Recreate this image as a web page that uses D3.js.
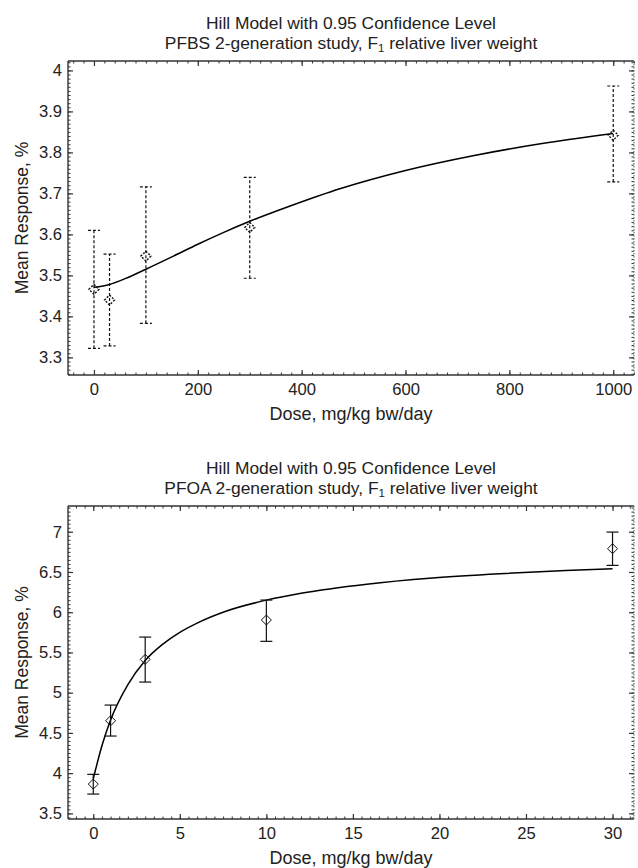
<!DOCTYPE html>
<html>
<head>
<meta charset="utf-8">
<script src="https://cdnjs.cloudflare.com/ajax/libs/d3/7.8.5/d3.min.js"></script>
<style>
  body { margin: 0; background: #fff; }
  svg text { font-family: "Liberation Sans", Arial, sans-serif; fill: #222; }
</style>
</head>
<body>
<div class="charts"></div>
<script>
// PFBS panel (top)
const pfbs_dose  = [0, 30, 100, 300, 1000];
const pfbs_mean  = [3.466, 3.440, 3.547, 3.617, 3.842];
const pfbs_lower = [3.322, 3.328, 3.383, 3.493, 3.728];
const pfbs_upper = [3.610, 3.552, 3.716, 3.739, 3.962];
const pfbs_fit_dose = [0, 30, 60, 100, 150, 200, 250, 300, 375, 475, 600, 730, 860, 1000];
const pfbs_fit_resp = [3.471, 3.478, 3.492, 3.515, 3.545, 3.576, 3.605, 3.632, 3.668, 3.712, 3.756, 3.792, 3.821, 3.846];
const pfbs_xticks = [0, 200, 400, 600, 800, 1000];
const pfbs_yticks = [3.3, 3.4, 3.5, 3.6, 3.7, 3.8, 3.9, 4];

// PFOA panel (bottom)
const pfoa_dose  = [0, 1, 3, 10, 30];
const pfoa_mean  = [3.864, 4.651, 5.414, 5.903, 6.789];
const pfoa_lower = [3.740, 4.461, 5.132, 5.638, 6.582];
const pfoa_upper = [3.985, 4.846, 5.691, 6.151, 6.996];
const pfoa_fit_dose = [0, 0.5, 1, 2, 3, 4, 5, 6, 7.7, 10, 12, 15.8, 19.6, 23.5, 27.3, 30];
const pfoa_fit_resp = [3.93, 4.34, 4.66, 5.10, 5.40, 5.60, 5.75, 5.865, 6.015, 6.15, 6.235, 6.348, 6.424, 6.478, 6.518, 6.54];
const pfoa_xticks = [0, 5, 10, 15, 20, 25, 30];
const pfoa_yticks = [3.5, 4, 4.5, 5, 5.5, 6, 6.5, 7];

const title_line1 = "Hill Model with 0.95 Confidence Level";
const x_label = "Dose, mg/kg bw/day";
const y_label = "Mean Response, %";

var w = 638, h = 868;
var frameColor = "#333";
var fmt = d3.format("~g");

var svg = d3.select(".charts").append("svg")
    .attr("width", w)
    .attr("height", h);

function minorTicks(domain, step)  // minor tick positions inside the domain
{
    var lst = [];
    var start = Math.ceil(domain[0] / step);
    var end = Math.floor(domain[1] / step);
    for (var i = start; i <= end; i++) {
        lst.push(+(i * step).toFixed(6));
    }
    return lst;
}

function drawPanel(p)
{
    var left = 68, right = 634;
    var g = svg.append("g");

    var xScale = d3.scaleLinear().domain(p.xDomain).range([left, right]);
    var yScale = d3.scaleLinear().domain(p.yDomain).range([p.bottom, p.top]);

    // titles
    g.append("text")
        .attr("x", (left + right) / 2)
        .attr("y", p.top - 32)
        .attr("text-anchor", "middle")
        .attr("font-size", 17.4)
        .text(title_line1);
    var t2 = g.append("text")
        .attr("x", (left + right) / 2)
        .attr("y", p.top - 12)
        .attr("text-anchor", "middle")
        .attr("font-size", 17.4);
    t2.append("tspan").text(p.subtitle + ", F");
    t2.append("tspan").attr("font-size", 11.5).attr("dy", 3).text("1");
    t2.append("tspan").attr("dy", -3).text(" relative liver weight");

    // minor + major ticks on all four sides, pointing inward
    var xMinor = minorTicks(p.xDomain, p.xMinorStep);
    var yMinor = minorTicks(p.yDomain, p.yMinorStep);

    function addAxis(maker, scale, transform, minor, major, labels)
    {
        g.append("g")
            .attr("transform", transform)
            .call(maker(scale).tickValues(minor).tickSize(-2.5).tickFormat(""))
            .call(s => s.select(".domain").remove())
            .selectAll("line").attr("stroke", frameColor);
        var ax = g.append("g")
            .attr("transform", transform)
            .call(maker(scale).tickValues(major).tickSize(-5).tickPadding(labels ? 10 : 0)
                .tickFormat(labels ? fmt : ""));
        ax.select(".domain").remove();
        ax.selectAll("line").attr("stroke", frameColor).attr("stroke-width", 1.2);
        ax.selectAll("text")
            .attr("font-size", 16.6)
            .attr("fill", "#222")
            .attr("font-family", "Liberation Sans, Arial, sans-serif");
        return ax;
    }
    var xAx = addAxis(d3.axisBottom, xScale, `translate(0,${p.bottom})`, xMinor, p.xticks, true);
    xAx.selectAll("text").attr("y", 8);
    addAxis(d3.axisTop, xScale, `translate(0,${p.top})`, xMinor, p.xticks, false);
    var yAx = addAxis(d3.axisLeft, yScale, `translate(${left},0)`, yMinor, p.yticks, true);
    yAx.selectAll("text").attr("x", -6);
    addAxis(d3.axisRight, yScale, `translate(${right},0)`, yMinor, p.yticks, false);

    // frame
    g.append("line").attr("x1", left).attr("x2", right).attr("y1", p.top).attr("y2", p.top)
        .attr("stroke", frameColor).attr("stroke-width", 1.4);
    g.append("line").attr("x1", left).attr("x2", right).attr("y1", p.bottom).attr("y2", p.bottom)
        .attr("stroke", frameColor).attr("stroke-width", 1.4);
    g.append("line").attr("x1", left).attr("x2", left).attr("y1", p.top).attr("y2", p.bottom)
        .attr("stroke", frameColor).attr("stroke-width", 1.4);
    g.append("line").attr("x1", right).attr("x2", right).attr("y1", p.top).attr("y2", p.bottom)
        .attr("stroke", "#777").attr("stroke-width", 1.2).attr("stroke-dasharray", "1.5,1.5");

    // axis labels
    g.append("text")
        .attr("x", (left + right) / 2)
        .attr("y", p.bottom + 45)
        .attr("text-anchor", "middle")
        .attr("font-size", 18)
        .text(x_label);
    g.append("text")
        .attr("transform", `translate(28,${(p.top + p.bottom) / 2}) rotate(-90)`)
        .attr("text-anchor", "middle")
        .attr("font-size", 17.5)
        .text(y_label);

    // fitted curve
    var fit = p.fitDose.map((d, i) => [d, p.fitResp[i]]);
    var line = d3.line()
        .x(d => xScale(d[0]))
        .y(d => yScale(d[1]))
        .curve(d3.curveMonotoneX);
    g.append("path")
        .datum(fit)
        .attr("d", line)
        .attr("fill", "none")
        .attr("stroke", "#000")
        .attr("stroke-width", 1.5);

    // error bars + diamonds
    var dash = p.dashed ? "3,2" : null;
    var cap = 6, dm = 5;
    for (let i = 0; i < p.dose.length; i++) {
        var cx = xScale(p.dose[i]);
        var eb = g.append("g")
            .attr("fill", "none")
            .attr("stroke", "#111")
            .attr("stroke-width", 1.2)
            .attr("stroke-dasharray", dash);
        eb.append("line")
            .attr("x1", cx).attr("x2", cx)
            .attr("y1", yScale(p.lower[i])).attr("y2", yScale(p.upper[i]));
        eb.append("line")
            .attr("x1", cx - cap).attr("x2", cx + cap)
            .attr("y1", yScale(p.lower[i])).attr("y2", yScale(p.lower[i]));
        eb.append("line")
            .attr("x1", cx - cap).attr("x2", cx + cap)
            .attr("y1", yScale(p.upper[i])).attr("y2", yScale(p.upper[i]));
        var cy = yScale(p.mean[i]);
        eb.append("path")
            .attr("d", `M${cx},${cy - dm}L${cx + dm},${cy}L${cx},${cy + dm}L${cx - dm},${cy}Z`)
            .attr("stroke-dasharray", p.dashed ? "2,1.5" : null)
            .attr("stroke-width", p.dashed ? 1.4 : 1);
    }
}

drawPanel({
    top: 61, bottom: 375,
    xDomain: [-50, 1040], yDomain: [3.257, 4.023],
    xticks: pfbs_xticks, yticks: pfbs_yticks,
    xMinorStep: 20, yMinorStep: 0.01,
    subtitle: "PFBS 2-generation study",
    dose: pfbs_dose, mean: pfbs_mean, lower: pfbs_lower, upper: pfbs_upper,
    fitDose: pfbs_fit_dose, fitResp: pfbs_fit_resp,
    dashed: true
});

drawPanel({
    top: 506, bottom: 819,
    xDomain: [-1.46, 31.24], yDomain: [3.43, 7.32],
    xticks: pfoa_xticks, yticks: pfoa_yticks,
    xMinorStep: 0.5, yMinorStep: 0.05,
    subtitle: "PFOA 2-generation study",
    dose: pfoa_dose, mean: pfoa_mean, lower: pfoa_lower, upper: pfoa_upper,
    fitDose: pfoa_fit_dose, fitResp: pfoa_fit_resp,
    dashed: false
});
</script>
</body>
</html>
